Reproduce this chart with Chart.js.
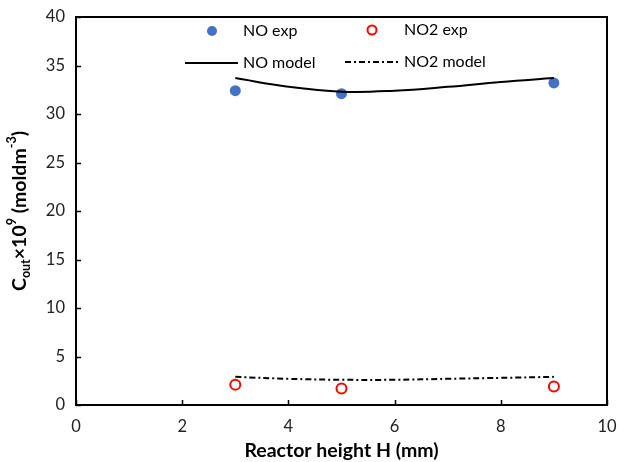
<!DOCTYPE html>
<html>
<head>
<meta charset="utf-8">
<script src="https://cdn.jsdelivr.net/npm/chart.js@4.4.1/dist/chart.umd.min.js"></script>
<style>
  html, body { margin: 0; padding: 0; background: #fff; }
  #wrap { width: 629px; height: 462px; }
</style>
</head>
<body>
<div id="wrap"><canvas id="c" width="629" height="462"></canvas></div>
<script>
// Reactor heights (mm) and measured outlet concentrations (x10^9 mol dm^-3)
const heightsExp = [3, 5, 9];
const noExp = [32.4, 32.1, 33.2];
const no2Exp = [2.1, 1.7, 1.9];

// Model curves
const heightsModel = [3, 4, 5, 6, 7, 8, 9];
const noModel = [33.7, 32.8, 32.3, 32.4, 32.8, 33.3, 33.7];
const no2Model = [2.9, 2.7, 2.6, 2.6, 2.7, 2.8, 2.9];

const xTicks = [0, 2, 4, 6, 8, 10];
const yTicks = [0, 5, 10, 15, 20, 25, 30, 35, 40];

const FONT = 'Lato, "Open Sans", sans-serif';
const BLUE = '#4472C4';
const RED = '#FF0000';

const pts = (xs, ys) => xs.map((x, i) => ({ x: x, y: ys[i] }));

// Frame, inward tick marks, axis titles and the legend
const decor = {
  id: 'decor',
  afterDraw(chart) {
    const ctx = chart.ctx;
    const a = chart.chartArea;
    const xs = chart.scales.x, ys = chart.scales.y;
    ctx.save();
    ctx.strokeStyle = '#000';
    ctx.lineWidth = 2;
    ctx.strokeRect(a.left, a.top, a.right - a.left, a.bottom - a.top);
    ctx.lineWidth = 1.5;
    ctx.beginPath();
    xTicks.forEach(v => {
      const px = Math.round(xs.getPixelForValue(v)) + 0.5;
      ctx.moveTo(px, a.bottom); ctx.lineTo(px, a.bottom - 5);
    });
    yTicks.forEach(v => {
      const py = Math.round(ys.getPixelForValue(v)) + 0.5;
      ctx.moveTo(a.left, py); ctx.lineTo(a.left + 5, py);
    });
    ctx.stroke();

    // x axis title
    ctx.fillStyle = '#000';
    ctx.font = 'bold 19.5px ' + FONT;
    ctx.textAlign = 'center';
    ctx.textBaseline = 'middle';
    ctx.fillText('Reactor height H (mm)', (a.left + a.right) / 2, 451);

    // y axis title with subscript / superscripts
    const parts = [
      { t: 'C', f: 'bold 19.5px ', dy: 0 },
      { t: 'out', f: 'bold 12.5px ', dy: 6 },
      { t: '\u00D710', f: 'bold 19.5px ', dy: 0 },
      { t: '9', f: 'bold 12.5px ', dy: -8 },
      { t: ' (moldm', f: 'bold 19.5px ', dy: 0 },
      { t: '-3', f: 'bold 12.5px ', dy: -8 },
      { t: ')', f: 'bold 19.5px ', dy: 0 }
    ];
    let total = 0;
    parts.forEach(p => { ctx.font = p.f + FONT; p.w = ctx.measureText(p.t).width; total += p.w; });
    ctx.translate(20, 211);
    ctx.rotate(-Math.PI / 2);
    ctx.textAlign = 'left';
    let cx = -total / 2;
    parts.forEach(p => {
      ctx.font = p.f + FONT;
      ctx.fillText(p.t, cx, p.dy);
      cx += p.w;
    });
    ctx.restore();

    // legend
    ctx.save();
    ctx.font = '16px ' + FONT;
    ctx.textAlign = 'left';
    ctx.textBaseline = 'middle';
    ctx.fillStyle = BLUE;
    ctx.beginPath(); ctx.arc(212, 31, 5, 0, Math.PI * 2); ctx.fill();
    ctx.strokeStyle = RED; ctx.lineWidth = 2;
    ctx.beginPath(); ctx.arc(372, 30, 4.5, 0, Math.PI * 2); ctx.stroke();
    ctx.strokeStyle = '#000'; ctx.lineWidth = 2;
    ctx.beginPath(); ctx.moveTo(185, 63); ctx.lineTo(238, 63); ctx.stroke();
    ctx.setLineDash([6, 3, 2, 3]);
    ctx.beginPath(); ctx.moveTo(345, 62); ctx.lineTo(399, 62); ctx.stroke();
    ctx.setLineDash([]);
    ctx.fillStyle = '#000';
    ctx.fillText('NO exp', 243, 31);
    ctx.fillText('NO2 exp', 404, 30);
    ctx.fillText('NO model', 243, 63);
    ctx.fillText('NO2 model', 404, 62);
    ctx.restore();
  }
};

new Chart(document.getElementById('c'), {
  type: 'scatter',
  data: {
    datasets: [
      {
        label: 'NO model', data: pts(heightsModel, noModel), showLine: true,
        borderColor: '#000', borderWidth: 2, pointRadius: 0, tension: 0.4, fill: false
      },
      {
        label: 'NO2 model', data: pts(heightsModel, no2Model), showLine: true,
        borderColor: '#000', borderWidth: 2, borderDash: [6, 3, 2, 3], pointRadius: 0,
        tension: 0.4, fill: false
      },
      {
        label: 'NO exp', data: pts(heightsExp, noExp),
        pointRadius: 5.5, pointBackgroundColor: BLUE, pointBorderColor: BLUE, pointBorderWidth: 0
      },
      {
        label: 'NO2 exp', data: pts(heightsExp, no2Exp),
        pointRadius: 5, pointBackgroundColor: '#fff', pointBorderColor: RED, pointBorderWidth: 2
      }
    ]
  },
  options: {
    responsive: false,
    animation: false,
    layout: { padding: { top: 17, right: 22, left: 0, bottom: 0 } },
    plugins: { legend: { display: false }, tooltip: { enabled: false } },
    scales: {
      x: {
        type: 'linear', min: 0, max: 10,
        grid: { display: false, drawTicks: false },
        border: { display: false },
        afterBuildTicks: s => { s.ticks = xTicks.map(v => ({ value: v })); },
        afterFit: s => { s.height = 57; s.paddingLeft = 0; s.paddingRight = 0; },
        ticks: { padding: 12, color: '#222', font: { size: 16.5, family: FONT }, maxRotation: 0 }
      },
      y: {
        type: 'linear', min: 0, max: 40,
        grid: { display: false, drawTicks: false },
        border: { display: false },
        afterBuildTicks: s => { s.ticks = yTicks.map(v => ({ value: v })); },
        afterFit: s => { s.width = 76; s.paddingTop = 0; s.paddingBottom = 0; },
        ticks: { padding: 11, color: '#222', font: { size: 16.5, family: FONT } }
      }
    }
  },
  plugins: [decor]
});
</script>
</body>
</html>
